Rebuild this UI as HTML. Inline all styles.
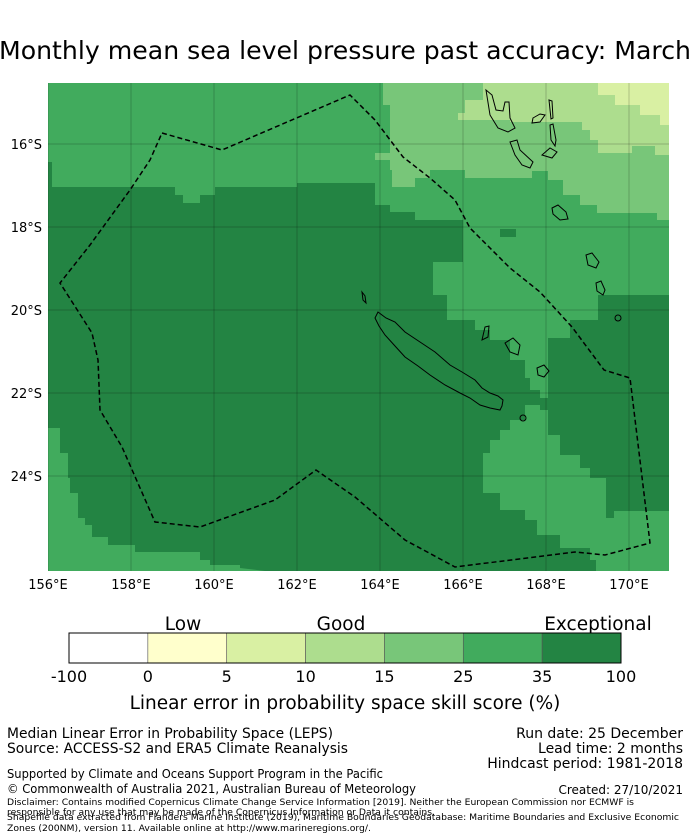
<!DOCTYPE html>
<html><head><meta charset="utf-8"><style>
html,body{margin:0;padding:0;background:#fff}
svg{display:block;font-family:"DejaVu Sans","Liberation Sans",sans-serif}
</style></head><body>
<svg id="fig" width="690" height="839" viewBox="0 0 690 839">
<text x="345" y="59" font-size="24.5" text-anchor="middle" textLength="692" lengthAdjust="spacingAndGlyphs">Monthly mean sea level pressure past accuracy: March</text>
<defs><clipPath id="mc"><rect x="48" y="83" width="621" height="488"/></clipPath></defs>
<g clip-path="url(#mc)">
<rect x="48" y="83" width="621" height="488" fill="#41ab5d"/>
<polygon fill="#238443" points="48,162 52,162 52,187 175,187 175,195 183,195 183,203 200,203 200,195 215,195 215,187 297,187 297,183 375,183 375,205 390,205 390,212 415,212 415,220 463,220 463,262 433,262 433,295 447,295 447,320 475,320 475,330 490,330 490,340 510,340 510,360 525,360 525,378 530,378 530,390 540,390 540,398 548,398 548,338 570,338 570,320 598,320 598,295 669,295 669,511 614,511 614,518 606,518 606,478 590,478 590,468 580,468 580,455 560,455 560,435 548,435 548,410 540,410 540,405 525,405 525,420 510,420 510,430 500,430 500,440 490,440 490,453 483,453 483,493 500,493 500,510 525,510 525,520 537,520 537,535 560,535 560,548 590,548 590,560 596,560 596,571 265,571 240,568 240,565 210,565 210,560 200,560 200,552 135,552 135,545 108,545 108,537 92,537 92,525 85,525 85,518 78,518 78,493 70,493 70,478 68,478 68,453 60,453 60,428 48,428"/>
<rect x="500" y="229" width="16" height="8" fill="#238443"/>
<polygon fill="#78c679" points="383,83 383,105 390,105 390,153 375,153 375,160 390,160 390,170 392,170 392,187 415,187 415,178 430,178 430,170 465,170 465,178 532,178 532,171 548,171 548,180 563,180 563,195 580,195 580,205 597,205 597,213 657,213 657,220 669,220 669,83"/>
<polygon fill="#addd8e" points="458,83 458,113 458,120 510,120 510,122 582,122 582,130 590,130 590,140 598,140 598,153 632,153 632,146 655,146 655,155 669,155 669,83"/>
<polygon fill="#78c679" points="458,83 483,83 483,100 465,100 465,113 458,113"/>
<polygon fill="#d9f0a3" points="598,83 598,95 615,95 615,105 640,105 640,115 660,115 660,125 669,125 669,83"/>
<g id="grid" stroke="#000" stroke-opacity="0.2" stroke-width="1"></g>
<polygon fill="none" stroke="#000" stroke-width="1.5" stroke-dasharray="5,3" points="162,133 222,150 350,95 375,120 403,157 430,178 455,200 470,228 510,268 540,292 572,327 604,370 630,378 650,543 605,555 575,552 455,567 405,540 355,497 316,470 275,500 200,527 155,522 122,447 100,410 98,360 92,333 60,283 90,245 130,190 150,160"/>
<g fill="none" stroke="#000" stroke-width="1">
<polygon points="378,312 386,318 395,322 405,332 420,342 435,352 450,365 462,372 475,380 482,388 490,393 498,396 503,400 502,406 500,410 490,408 480,405 470,398 460,393 445,385 430,375 418,366 405,357 395,346 385,335 379,326 375,318"/>
<polygon points="486,90 492,95 496,110 503,111 505,102 509,102 510,118 515,128 508,132 498,128 490,115"/>
<polygon points="510,142 517,140 520,150 533,162 530,168 522,165 515,155"/>
<polygon points="549,100 552,101 553,118 551,119"/>
<polygon points="550,125 553,124 556,140 555,146 551,140"/>
<polygon points="533,118 540,114 545,115 540,122 532,123"/>
<polygon points="542,155 550,148 557,152 552,158"/>
<polygon points="552,208 558,205 566,212 568,219 560,220 553,214"/>
<polygon points="586,255 592,253 599,262 596,268 588,265"/>
<polygon points="596,283 601,281 605,290 603,295 597,291"/>
<polygon points="505,343 513,338 520,345 518,355 510,352"/>
<polygon points="485,327 489,326 488,337 482,340"/>
<polygon points="537,368 544,365 549,371 544,377 538,375"/>
<circle cx="618" cy="318" r="3"/>
<circle cx="523" cy="418" r="3"/>
<polygon points="362,292 365,296 366,303 363,300"/>
</g>
</g>
<g id="xt" font-size="13" text-anchor="middle"></g>
<g id="yt" font-size="13" text-anchor="end"></g>
<text x="183" y="630" font-size="18.5" text-anchor="middle">Low</text>
<text x="341" y="630" font-size="18.5" text-anchor="middle">Good</text>
<text x="598" y="630" font-size="18.5" text-anchor="middle">Exceptional</text>
<g id="cb"></g>
<text x="345" y="709" font-size="18.5" text-anchor="middle">Linear error in probability space skill score (%)</text>
<g font-size="14">
<text x="7" y="738" textLength="326" lengthAdjust="spacingAndGlyphs">Median Linear Error in Probability Space (LEPS)</text>
<text x="7" y="753" textLength="341" lengthAdjust="spacingAndGlyphs">Source: ACCESS-S2 and ERA5 Climate Reanalysis</text>
<text x="683" y="738" text-anchor="end">Run date: 25 December</text>
<text x="683" y="753" text-anchor="end">Lead time: 2 months</text>
<text x="683" y="768" text-anchor="end">Hindcast period: 1981-2018</text>
<text x="7" y="778" font-size="12" textLength="376" lengthAdjust="spacingAndGlyphs">Supported by Climate and Oceans Support Program in the Pacific</text>
<text x="7" y="793" font-size="12" textLength="409" lengthAdjust="spacingAndGlyphs">© Commonwealth of Australia 2021, Australian Bureau of Meteorology</text>
<text x="683" y="794" font-size="12" text-anchor="end">Created: 27/10/2021</text>
<text x="7" y="805" font-size="9" textLength="627" lengthAdjust="spacingAndGlyphs">Disclaimer: Contains modified Copernicus Climate Change Service Information [2019]. Neither the European Commission nor ECMWF is</text>
<text x="7" y="815" font-size="9" textLength="428" lengthAdjust="spacingAndGlyphs">responsible for any use that may be made of the Copernicus Information or Data it contains.</text>
<text x="7" y="820" font-size="9" textLength="672" lengthAdjust="spacingAndGlyphs">Shapefile data extracted from Flanders Marine Institute (2019), Maritime Boundaries Geodatabase: Maritime Boundaries and Exclusive Economic</text>
<text x="7" y="831" font-size="9" textLength="364" lengthAdjust="spacingAndGlyphs">Zones (200NM), version 11. Available online at http://www.marineregions.org/.</text>
</g>
</svg>
<script>
const lonTicks=[156,158,160,162,164,166,168,170];
const latTicks=[16,18,20,22,24];
const cbLabels=["-100","0","5","10","15","25","35","100"];
const cbColors=["#ffffff","#ffffcc","#d9f0a3","#addd8e","#78c679","#41ab5d","#238443"];
const NS="http://www.w3.org/2000/svg";
const xOf=lon=>48+(lon-156)*41.5;
const yOf=lat=>144+(lat-16)*41.5;
const grid=document.getElementById('grid'),xt=document.getElementById('xt'),yt=document.getElementById('yt'),cb=document.getElementById('cb');
lonTicks.forEach(l=>{
 const ln=document.createElementNS(NS,'line');
 ln.setAttribute('x1',xOf(l));ln.setAttribute('x2',xOf(l));ln.setAttribute('y1',83);ln.setAttribute('y2',571);
 
 
 grid.appendChild(ln);
 const t=document.createElementNS(NS,'text');
 t.setAttribute('x',xOf(l));t.setAttribute('y',589);t.textContent=l+'°E';
 
 
 xt.appendChild(t);
});
latTicks.forEach(l=>{
 const ln=document.createElementNS(NS,'line');
 ln.setAttribute('y1',yOf(l));ln.setAttribute('y2',yOf(l));ln.setAttribute('x1',48);ln.setAttribute('x2',669);
 
 
 grid.appendChild(ln);
 const t=document.createElementNS(NS,'text');
 t.setAttribute('x',42);t.setAttribute('y',yOf(l)+5);t.textContent=l+'°S';
 
 
 yt.appendChild(t);
});
const cbX=i=>69+i*(552/cbColors.length);
cbColors.forEach((c,i)=>{
 const r=document.createElementNS(NS,'rect');
 r.setAttribute('x',cbX(i));r.setAttribute('y',633);r.setAttribute('width',552/cbColors.length);r.setAttribute('height',30);
 r.setAttribute('fill',c);r.setAttribute('stroke','#555');r.setAttribute('stroke-width','0.6');
 
 
 cb.appendChild(r);
});
const fr=document.createElementNS(NS,'rect');
fr.setAttribute('x',69);fr.setAttribute('y',633);fr.setAttribute('width',552);fr.setAttribute('height',30);fr.setAttribute('fill','none');fr.setAttribute('stroke','#000');


cb.appendChild(fr);
cbLabels.forEach((s,i)=>{
 const t=document.createElementNS(NS,'text');
 t.setAttribute('x',cbX(i));t.setAttribute('y',682);t.setAttribute('font-size','16');t.setAttribute('text-anchor','middle');t.textContent=s;
 
 
 cb.appendChild(t);
});
</script>
</body></html>
